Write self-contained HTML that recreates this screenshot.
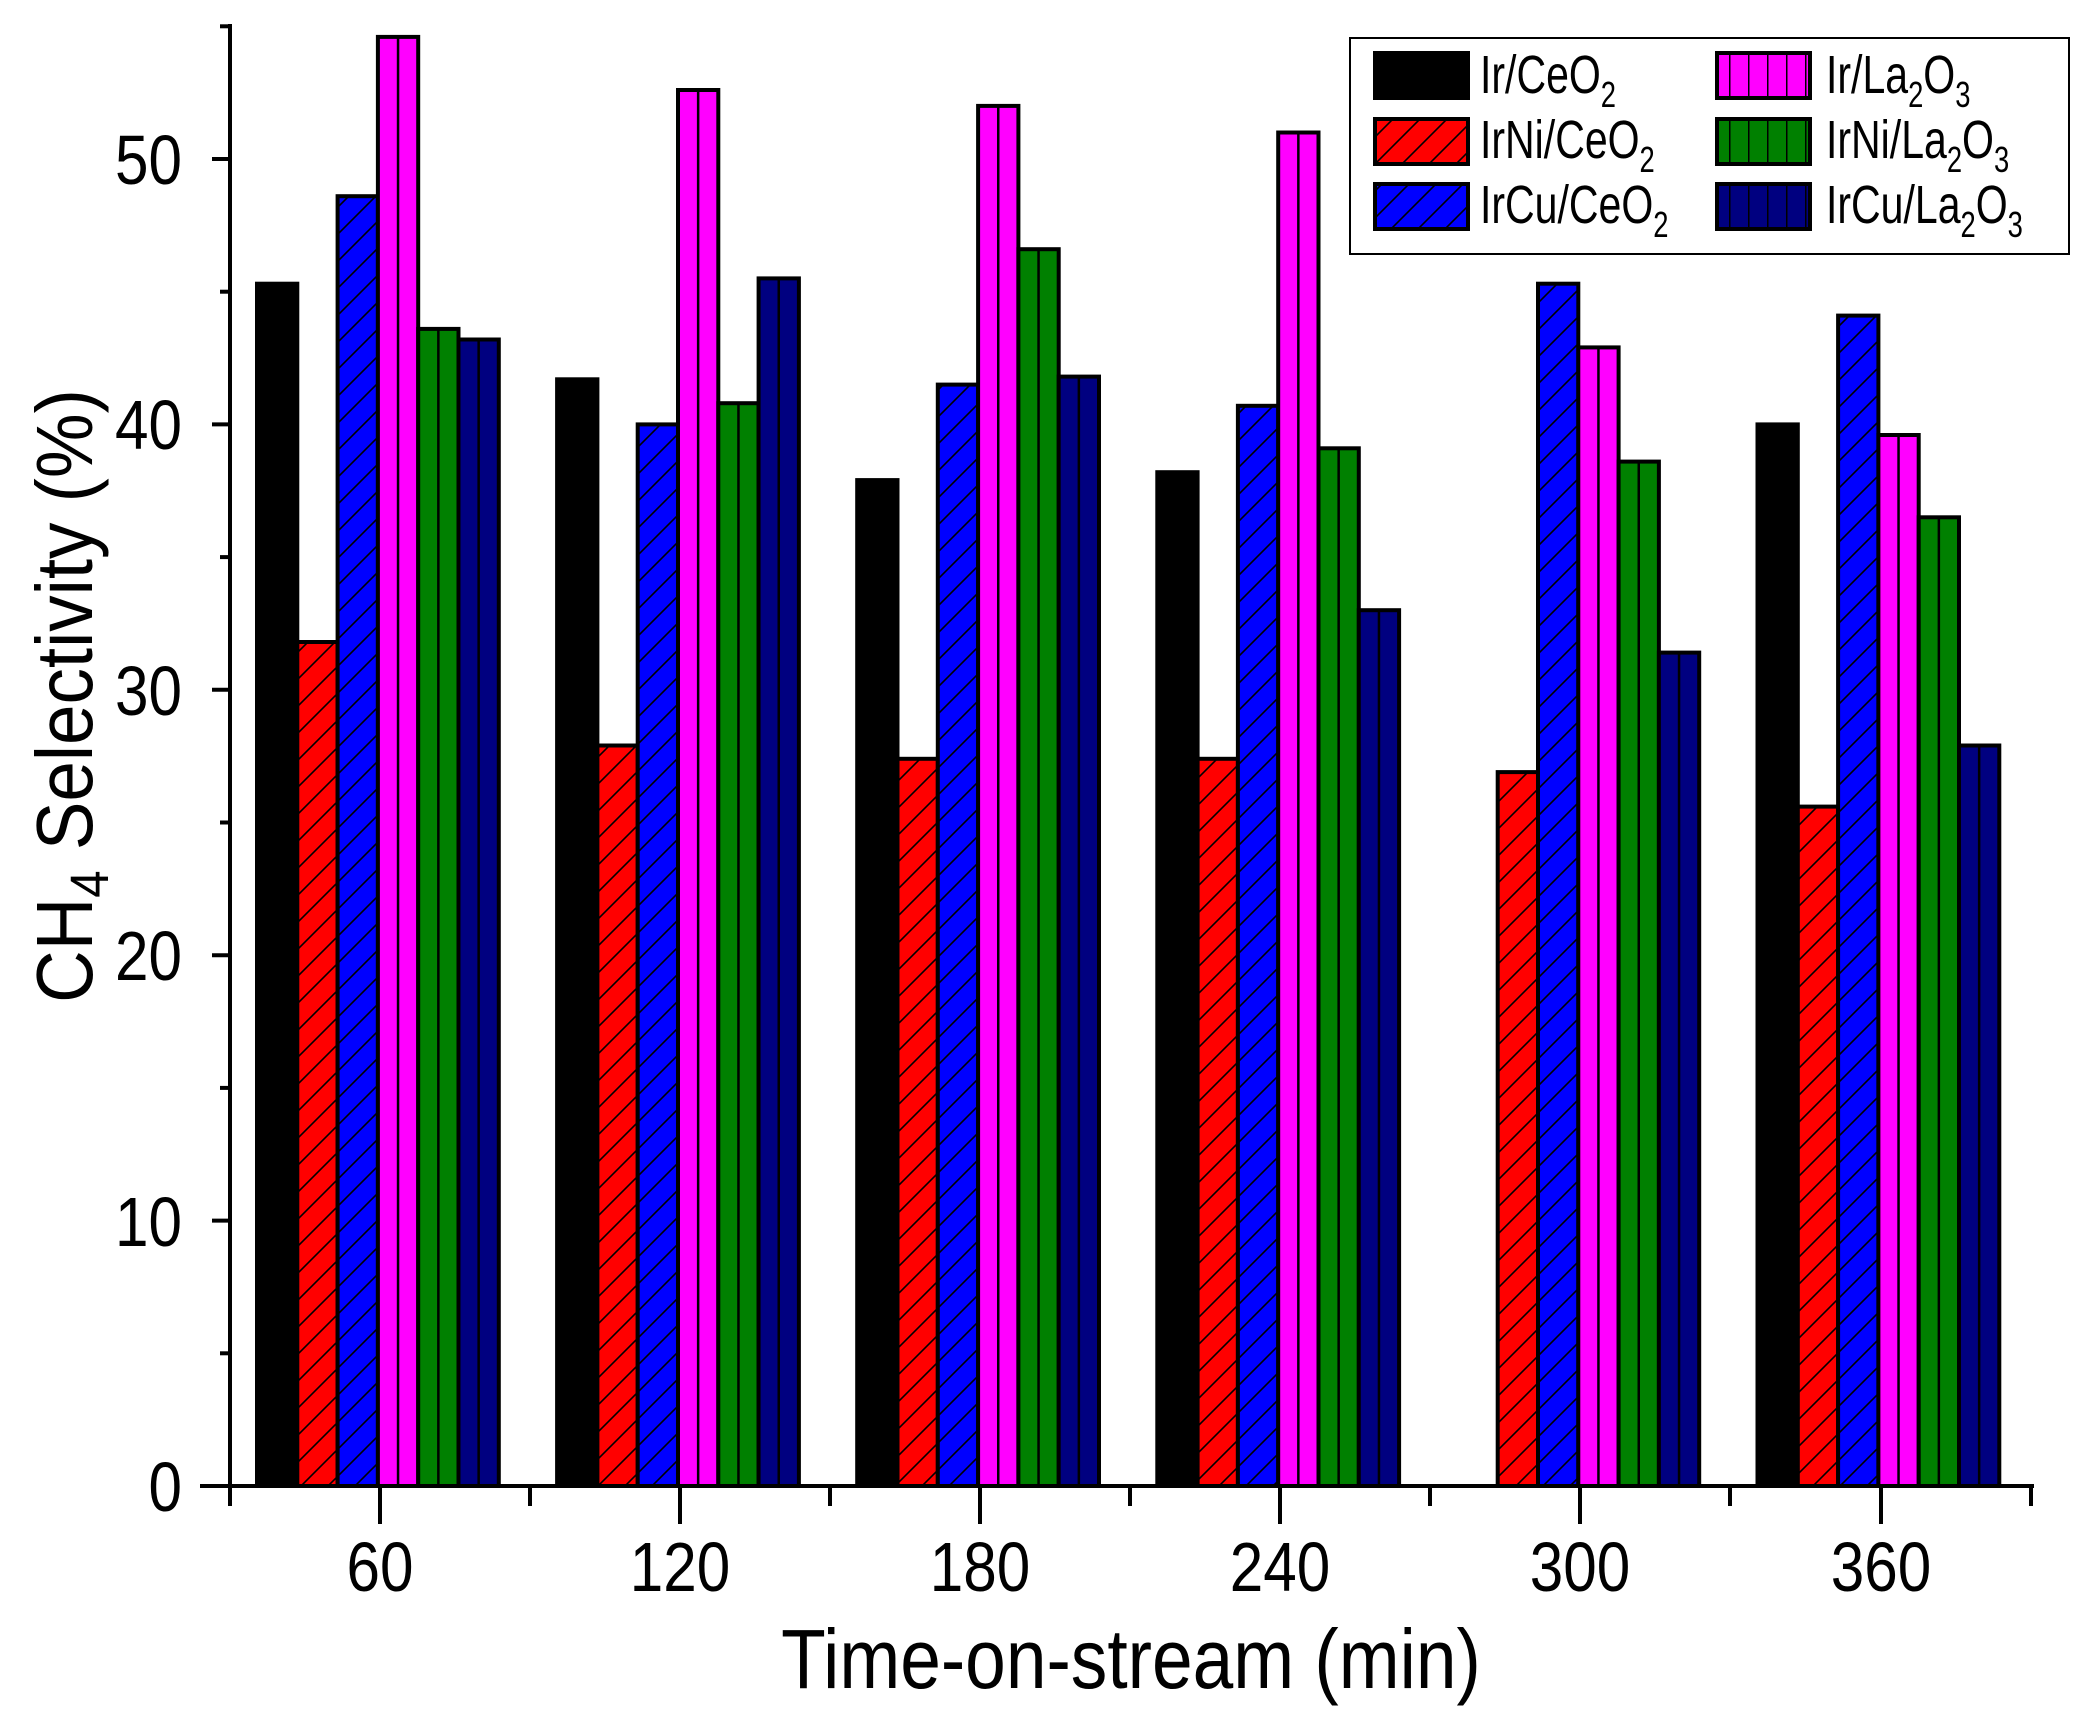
<!DOCTYPE html>
<html><head><meta charset="utf-8"><style>html,body{margin:0;padding:0;background:#fff}svg{display:block}</style></head>
<body>
<svg width="2088" height="1713" viewBox="0 0 2088 1713" xmlns="http://www.w3.org/2000/svg" font-family="Liberation Sans, Arial, sans-serif">
<defs>
<pattern id="diagR" patternUnits="userSpaceOnUse" width="27" height="27"><rect width="27" height="27" fill="#ff0000"/><path d="M-5,32 L32,-5 M-5,5 L5,-5 M22,32 L32,22" stroke="#000" stroke-width="1.6"/></pattern>
<pattern id="diagB" patternUnits="userSpaceOnUse" width="27" height="27"><rect width="27" height="27" fill="#0000ff"/><path d="M-5,32 L32,-5 M-5,5 L5,-5 M22,32 L32,22" stroke="#000" stroke-width="1.6"/></pattern>
<pattern id="vM" patternUnits="userSpaceOnUse" width="19" height="20"><rect width="19" height="20" fill="#ff00ff"/><line x1="0" y1="0" x2="0" y2="20" stroke="#000" stroke-width="3"/></pattern>
<pattern id="vG" patternUnits="userSpaceOnUse" width="19" height="20"><rect width="19" height="20" fill="#008000"/><line x1="0" y1="0" x2="0" y2="20" stroke="#000" stroke-width="3"/></pattern>
<pattern id="vN" patternUnits="userSpaceOnUse" width="19" height="20"><rect width="19" height="20" fill="#000080"/><line x1="0" y1="0" x2="0" y2="20" stroke="#000" stroke-width="3"/></pattern>
</defs>
<g stroke="#000" stroke-width="4" transform="translate(5,0)">
<rect x="252" y="283.7" width="40.3" height="1202.3" fill="#000"/>
<rect x="292.3" y="642" width="40.3" height="844" fill="url(#diagR)"/>
<rect x="332.6" y="196.2" width="40.3" height="1289.8" fill="url(#diagB)"/>
<rect x="372.9" y="36.9" width="40.3" height="1449.1" fill="#ff00ff"/>
<rect x="413.2" y="328.9" width="40.3" height="1157.1" fill="#008000"/>
<rect x="453.5" y="339.5" width="40.3" height="1146.5" fill="#000080"/>
<rect x="552.1" y="379.3" width="40.3" height="1106.7" fill="#000"/>
<rect x="592.4" y="745.5" width="40.3" height="740.5" fill="url(#diagR)"/>
<rect x="632.7" y="424.4" width="40.3" height="1061.6" fill="url(#diagB)"/>
<rect x="673" y="90" width="40.3" height="1396" fill="#ff00ff"/>
<rect x="713.3" y="403.2" width="40.3" height="1082.8" fill="#008000"/>
<rect x="753.6" y="278.4" width="40.3" height="1207.6" fill="#000080"/>
<rect x="852.2" y="480.1" width="40.3" height="1005.9" fill="#000"/>
<rect x="892.5" y="758.8" width="40.3" height="727.2" fill="url(#diagR)"/>
<rect x="932.8" y="384.6" width="40.3" height="1101.4" fill="url(#diagB)"/>
<rect x="973.1" y="105.9" width="40.3" height="1380.1" fill="#ff00ff"/>
<rect x="1013.4" y="249.2" width="40.3" height="1236.8" fill="#008000"/>
<rect x="1053.7" y="376.6" width="40.3" height="1109.4" fill="#000080"/>
<rect x="1152.3" y="472.2" width="40.3" height="1013.8" fill="#000"/>
<rect x="1192.6" y="758.8" width="40.3" height="727.2" fill="url(#diagR)"/>
<rect x="1232.9" y="405.8" width="40.3" height="1080.2" fill="url(#diagB)"/>
<rect x="1273.2" y="132.5" width="40.3" height="1353.5" fill="#ff00ff"/>
<rect x="1313.5" y="448.3" width="40.3" height="1037.7" fill="#008000"/>
<rect x="1353.8" y="610.2" width="40.3" height="875.8" fill="#000080"/>
<rect x="1492.7" y="772.1" width="40.3" height="713.9" fill="url(#diagR)"/>
<rect x="1533" y="283.7" width="40.3" height="1202.3" fill="url(#diagB)"/>
<rect x="1573.3" y="347.4" width="40.3" height="1138.6" fill="#ff00ff"/>
<rect x="1613.6" y="461.6" width="40.3" height="1024.4" fill="#008000"/>
<rect x="1653.9" y="652.6" width="40.3" height="833.4" fill="#000080"/>
<rect x="1752.5" y="424.4" width="40.3" height="1061.6" fill="#000"/>
<rect x="1792.8" y="806.6" width="40.3" height="679.4" fill="url(#diagR)"/>
<rect x="1833.1" y="315.6" width="40.3" height="1170.4" fill="url(#diagB)"/>
<rect x="1873.4" y="435" width="40.3" height="1051" fill="#ff00ff"/>
<rect x="1913.7" y="517.3" width="40.3" height="968.7" fill="#008000"/>
<rect x="1954" y="745.5" width="40.3" height="740.5" fill="#000080"/>
</g>
<g stroke="#000" stroke-width="2.5" transform="translate(5,0)">
<line x1="393.05" y1="36.9" x2="393.05" y2="1486"/><line x1="433.35" y1="328.9" x2="433.35" y2="1486"/><line x1="473.65" y1="339.5" x2="473.65" y2="1486"/>
<line x1="693.15" y1="90" x2="693.15" y2="1486"/><line x1="733.45" y1="403.2" x2="733.45" y2="1486"/><line x1="773.75" y1="278.4" x2="773.75" y2="1486"/>
<line x1="993.25" y1="105.9" x2="993.25" y2="1486"/><line x1="1033.55" y1="249.2" x2="1033.55" y2="1486"/><line x1="1073.85" y1="376.6" x2="1073.85" y2="1486"/>
<line x1="1293.35" y1="132.5" x2="1293.35" y2="1486"/><line x1="1333.65" y1="448.3" x2="1333.65" y2="1486"/><line x1="1373.95" y1="610.2" x2="1373.95" y2="1486"/>
<line x1="1593.45" y1="347.4" x2="1593.45" y2="1486"/><line x1="1633.75" y1="461.6" x2="1633.75" y2="1486"/><line x1="1674.05" y1="652.6" x2="1674.05" y2="1486"/>
<line x1="1893.55" y1="435" x2="1893.55" y2="1486"/><line x1="1933.85" y1="517.3" x2="1933.85" y2="1486"/><line x1="1974.15" y1="745.5" x2="1974.15" y2="1486"/>
</g>
<g stroke="#000" stroke-width="4" fill="none">
<line x1="230" y1="24" x2="230" y2="1488"/>
<line x1="200" y1="1486" x2="2034" y2="1486"/>
<line x1="212" y1="1220.6" x2="230" y2="1220.6"/><line x1="212" y1="955.2" x2="230" y2="955.2"/><line x1="212" y1="689.8" x2="230" y2="689.8"/><line x1="212" y1="424.4" x2="230" y2="424.4"/><line x1="212" y1="159" x2="230" y2="159"/>
<line x1="220" y1="1353.3" x2="230" y2="1353.3"/><line x1="220" y1="1087.9" x2="230" y2="1087.9"/><line x1="220" y1="822.5" x2="230" y2="822.5"/><line x1="220" y1="557.1" x2="230" y2="557.1"/><line x1="220" y1="291.7" x2="230" y2="291.7"/><line x1="220" y1="26.3" x2="230" y2="26.3"/>
<line x1="380" y1="1486" x2="380" y2="1524"/><line x1="680" y1="1486" x2="680" y2="1524"/><line x1="980" y1="1486" x2="980" y2="1524"/><line x1="1280" y1="1486" x2="1280" y2="1524"/><line x1="1580" y1="1486" x2="1580" y2="1524"/><line x1="1881" y1="1486" x2="1881" y2="1524"/>
<line x1="230" y1="1486" x2="230" y2="1506"/><line x1="530" y1="1486" x2="530" y2="1506"/><line x1="830" y1="1486" x2="830" y2="1506"/><line x1="1130" y1="1486" x2="1130" y2="1506"/><line x1="1430" y1="1486" x2="1430" y2="1506"/><line x1="1730" y1="1486" x2="1730" y2="1506"/><line x1="2031" y1="1486" x2="2031" y2="1506"/>
</g>
<g font-size="70" fill="#000" text-anchor="end">
<text transform="translate(182,1511) scale(0.86,1)">0</text>
<text transform="translate(182,1246) scale(0.86,1)">10</text>
<text transform="translate(182,980) scale(0.86,1)">20</text>
<text transform="translate(182,715) scale(0.86,1)">30</text>
<text transform="translate(182,449) scale(0.86,1)">40</text>
<text transform="translate(182,184) scale(0.86,1)">50</text>
</g>
<g font-size="70" fill="#000" text-anchor="middle">
<text transform="translate(380,1591) scale(0.86,1)">60</text>
<text transform="translate(680,1591) scale(0.86,1)">120</text>
<text transform="translate(980,1591) scale(0.86,1)">180</text>
<text transform="translate(1280,1591) scale(0.86,1)">240</text>
<text transform="translate(1580,1591) scale(0.86,1)">300</text>
<text transform="translate(1881,1591) scale(0.86,1)">360</text>
</g>
<text transform="translate(1131,1688) scale(0.87,1)" font-size="84" text-anchor="middle">Time-on-stream (min)</text>
<text transform="translate(92,696) rotate(-90) scale(0.91,1)" font-size="80" text-anchor="middle">CH<tspan font-size="54" dy="16">4</tspan><tspan dy="-16"> Selectivity (%)</tspan></text>
<rect x="1350" y="38" width="719" height="216" fill="#fff" stroke="#000" stroke-width="2"/>
<g stroke="#000" stroke-width="4">
<rect x="1375" y="53" width="93" height="45" fill="#000"/>
<rect x="1375" y="119" width="93" height="45" fill="url(#diagR)"/>
<rect x="1375" y="184" width="93" height="45" fill="url(#diagB)"/>
<rect x="1717" y="53" width="93" height="45" fill="url(#vM)"/>
<rect x="1717" y="119" width="93" height="45" fill="url(#vG)"/>
<rect x="1717" y="184" width="93" height="45" fill="url(#vN)"/>
</g>
<g font-size="54" fill="#000">
<text transform="translate(1480,93) scale(0.76,1)">Ir/CeO<tspan font-size="36" dy="14">2</tspan></text>
<text transform="translate(1480,158) scale(0.76,1)">IrNi/CeO<tspan font-size="36" dy="14">2</tspan></text>
<text transform="translate(1480,223) scale(0.76,1)">IrCu/CeO<tspan font-size="36" dy="14">2</tspan></text>
<text transform="translate(1826,93) scale(0.76,1)">Ir/La<tspan font-size="36" dy="14">2</tspan><tspan dy="-14">O</tspan><tspan font-size="36" dy="14">3</tspan></text>
<text transform="translate(1826,158) scale(0.76,1)">IrNi/La<tspan font-size="36" dy="14">2</tspan><tspan dy="-14">O</tspan><tspan font-size="36" dy="14">3</tspan></text>
<text transform="translate(1826,223) scale(0.76,1)">IrCu/La<tspan font-size="36" dy="14">2</tspan><tspan dy="-14">O</tspan><tspan font-size="36" dy="14">3</tspan></text>
</g>
</svg>
</body></html>
